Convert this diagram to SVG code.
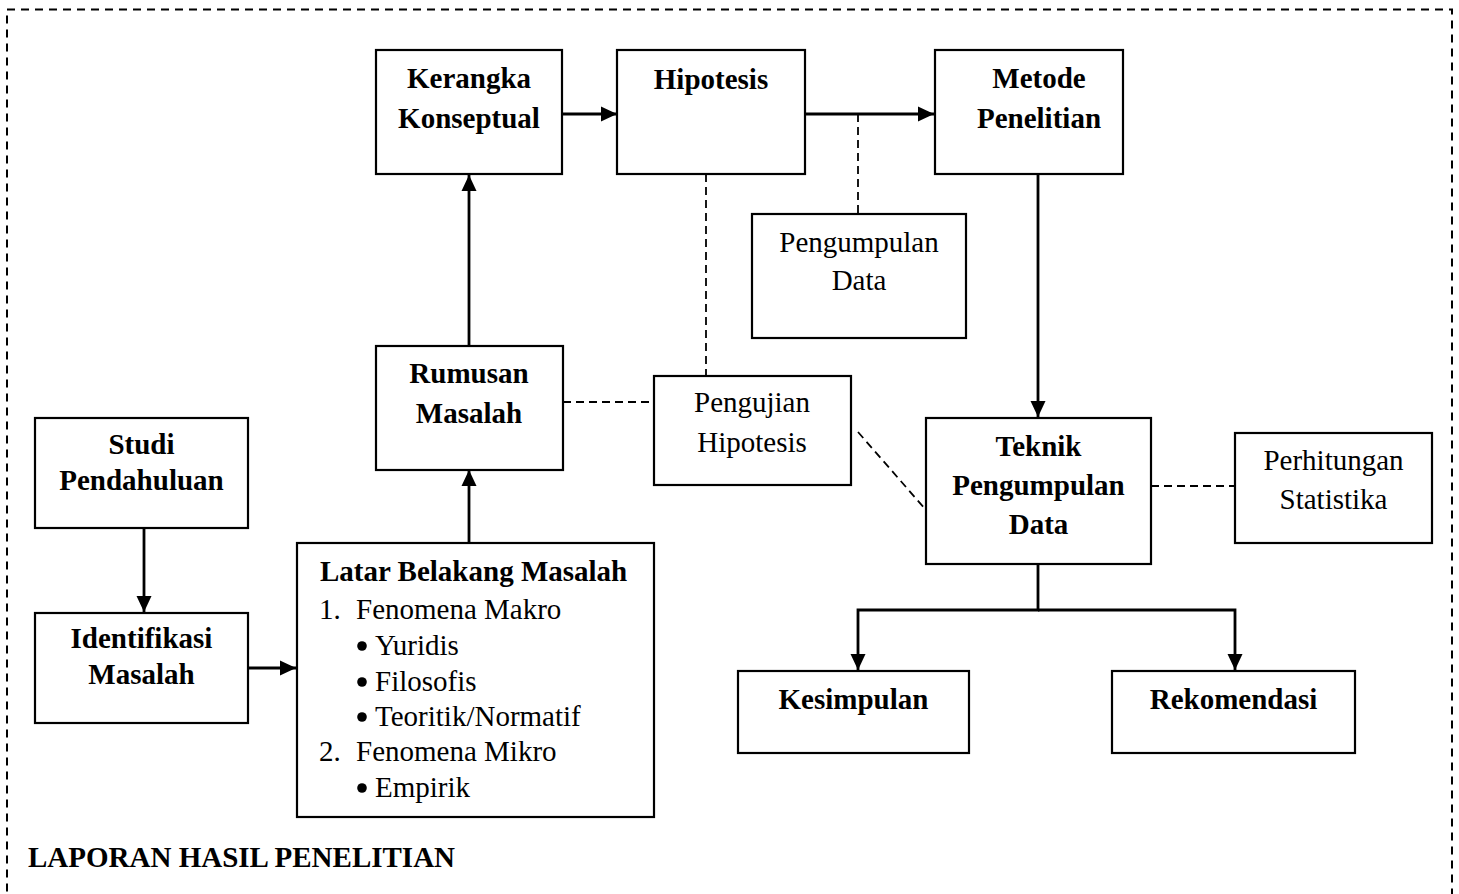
<svg xmlns="http://www.w3.org/2000/svg" width="1459" height="894" viewBox="0 0 1459 894">
<style>
  .box { fill: #ffffff; stroke: #000000; stroke-width: 2.2; }
  .t { font-family: "Liberation Serif", "Times New Roman", serif; font-size: 29px; fill: #000000; }
  .b { font-weight: bold; }
  .c { text-anchor: middle; }
  .arrow { fill: none; stroke: #000000; stroke-width: 2.8; }
  .dash { fill: none; stroke: #000000; stroke-width: 1.8; stroke-dasharray: 8 5; }
  .frame { fill: none; stroke: #000000; stroke-width: 2; stroke-dasharray: 8 6; }
</style>
<defs>
  <marker id="ah" markerUnits="userSpaceOnUse" markerWidth="16" markerHeight="16" refX="16" refY="8" orient="auto">
    <path d="M0,0.5 L16,8 L0,15.5 z" fill="#000000"/>
  </marker>
</defs>
<rect width="1459" height="894" fill="#ffffff"/>
<rect class="frame" x="7" y="9.5" width="1445" height="900"/>

<g id="connectors">
  <line class="arrow" x1="562" y1="114" x2="617" y2="114" marker-end="url(#ah)"/>
  <line class="arrow" x1="805" y1="114" x2="934" y2="114" marker-end="url(#ah)"/>
  <line class="arrow" x1="469" y1="346" x2="469" y2="175" marker-end="url(#ah)"/>
  <line class="arrow" x1="469" y1="543" x2="469" y2="470" marker-end="url(#ah)"/>
  <line class="arrow" x1="144" y1="528" x2="144" y2="612" marker-end="url(#ah)"/>
  <line class="arrow" x1="248" y1="668" x2="296" y2="668" marker-end="url(#ah)"/>
  <line class="arrow" x1="1038" y1="174" x2="1038" y2="417" marker-end="url(#ah)"/>
  <polyline class="arrow" points="1038,564 1038,610 858,610 858,670" marker-end="url(#ah)"/>
  <polyline class="arrow" points="1038,610 1235,610 1235,670" marker-end="url(#ah)"/>
  <line class="dash" x1="858" y1="114" x2="858" y2="214"/>
  <line class="dash" x1="706" y1="174" x2="706" y2="376"/>
  <line class="dash" x1="563" y1="402" x2="654" y2="402"/>
  <line class="dash" x1="858" y1="432" x2="926" y2="510"/>
  <line class="dash" x1="1151" y1="486" x2="1235" y2="486"/>
</g>

<g id="kerangka">
  <rect class="box" x="376" y="50" width="186" height="124"/>
  <text class="t b c" x="469" y="88">Kerangka</text>
  <text class="t b c" x="469" y="128">Konseptual</text>
</g>
<g id="hipotesis">
  <rect class="box" x="617" y="50" width="188" height="124"/>
  <text class="t b c" x="711" y="89">Hipotesis</text>
</g>
<g id="metode">
  <rect class="box" x="935" y="50" width="188" height="124"/>
  <text class="t b c" x="1039" y="88">Metode</text>
  <text class="t b c" x="1039" y="128">Penelitian</text>
</g>
<g id="pengumpulan">
  <rect class="box" x="752" y="214" width="214" height="124"/>
  <text class="t c" x="859" y="252">Pengumpulan</text>
  <text class="t c" x="859" y="290">Data</text>
</g>
<g id="rumusan">
  <rect class="box" x="376" y="346" width="187" height="124"/>
  <text class="t b c" x="469" y="383">Rumusan</text>
  <text class="t b c" x="469" y="423">Masalah</text>
</g>
<g id="pengujian">
  <rect class="box" x="654" y="376" width="197" height="109"/>
  <text class="t c" x="752" y="412">Pengujian</text>
  <text class="t c" x="752" y="452">Hipotesis</text>
</g>
<g id="studi">
  <rect class="box" x="35" y="418" width="213" height="110"/>
  <text class="t b c" x="141.5" y="454">Studi</text>
  <text class="t b c" x="141.5" y="490">Pendahuluan</text>
</g>
<g id="identifikasi">
  <rect class="box" x="35" y="613" width="213" height="110"/>
  <text class="t b c" x="141.5" y="648">Identifikasi</text>
  <text class="t b c" x="141.5" y="684">Masalah</text>
</g>
<g id="latar">
  <rect class="box" x="297" y="543" width="357" height="274"/>
  <text class="t b" x="320" y="581">Latar Belakang Masalah</text>
  <text class="t" x="319" y="619">1.</text>
  <text class="t" x="356" y="619">Fenomena Makro</text>
  <circle cx="362" cy="646" r="4.8"/>
  <text class="t" x="375" y="655">Yuridis</text>
  <circle cx="362" cy="682" r="4.8"/>
  <text class="t" x="375" y="691">Filosofis</text>
  <circle cx="362" cy="717" r="4.8"/>
  <text class="t" x="375" y="726">Teoritik/Normatif</text>
  <text class="t" x="319" y="761">2.</text>
  <text class="t" x="356" y="761">Fenomena Mikro</text>
  <circle cx="362" cy="788" r="4.8"/>
  <text class="t" x="375" y="797">Empirik</text>
</g>
<g id="teknik">
  <rect class="box" x="926" y="418" width="225" height="146"/>
  <text class="t b c" x="1038.5" y="456">Teknik</text>
  <text class="t b c" x="1038.5" y="495">Pengumpulan</text>
  <text class="t b c" x="1038.5" y="534">Data</text>
</g>
<g id="perhitungan">
  <rect class="box" x="1235" y="433" width="197" height="110"/>
  <text class="t c" x="1333.5" y="470">Perhitungan</text>
  <text class="t c" x="1333.5" y="509">Statistika</text>
</g>
<g id="kesimpulan">
  <rect class="box" x="738" y="671" width="231" height="82"/>
  <text class="t b c" x="853.5" y="709">Kesimpulan</text>
</g>
<g id="rekomendasi">
  <rect class="box" x="1112" y="671" width="243" height="82"/>
  <text class="t b c" x="1233.5" y="709">Rekomendasi</text>
</g>
<g id="judul">
  <text class="t b" x="28" y="867">LAPORAN HASIL PENELITIAN</text>
</g>
</svg>
